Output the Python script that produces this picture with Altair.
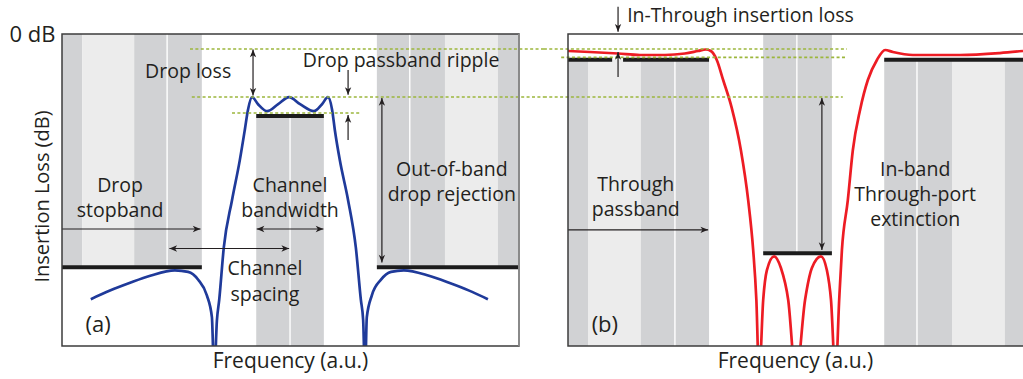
import altair as alt
import pandas as pd

FONT = "Open Sans"
INK = "#231f20"
FRAME = "#3d3d3d"
SIDE = "#8e8e8e"
TONES = ["mid", "light"]
TONE_COLOURS = ["#d1d2d4", "#ececec"]
BLUE = "#1f3a9a"
RED = "#ed1c24"
GUIDE = "#9cb63c"
SPEC = "#1c1c1c"

# arrowhead outline, tip at the origin, pointing up
HEAD = "M0,0L0.9,2.2L0,1.6L-0.9,2.2Z"

# ---------------- panel (a): drop port ----------------
a_band_x0 = [0.0, 4.4, 15.8, 68.9, 83.8, 95.4, 42.5]
a_band_x1 = [4.4, 15.8, 30.6, 83.8, 95.4, 100.0, 57.3]
a_band_top = [0.0, 0.0, 0.0, 0.0, 0.0, 0.0, -10.5]
a_band_bot = [-29.9, -29.9, -29.9, -29.9, -29.9, -29.9, -40.0]
a_band_tone = ["mid", "light", "mid", "mid", "light", "mid", "mid"]

a_sep_x = [23.0, 76.1, 49.9]
a_sep_top = [0.0, 0.0, -10.5]
a_sep_bot = [-29.9, -29.9, -40.0]

a_spec_x0 = [0.0, 68.9, 42.5]
a_spec_x1 = [30.6, 100.0, 57.3]
a_spec_y = [-29.9, -29.9, -10.5]

a_freq = [6.3, 10.5, 14.9, 19.3, 24.7, 27.6, 29.8, 31.7, 32.8, 33.3,
          33.9, 34.4, 35.4, 37.2, 38.9, 40.0, 40.7, 41.6, 42.9, 44.9,
          47.3, 49.7, 52.1, 55.1, 56.9, 58.2, 59.1, 59.7, 60.8, 62.6,
          64.3, 65.4, 65.9, 66.3, 66.7, 67.8, 69.8, 72.0, 74.8, 80.3,
          84.7, 89.1, 93.2]
a_loss = [-34.0, -32.9, -31.9, -31.0, -30.3, -30.5, -31.5, -33.5, -36.3, -44.0,
          -36.7, -34.1, -27.4, -21.3, -16.2, -12.3, -9.7, -8.1, -9.0, -9.9,
          -9.0, -8.1, -9.0, -9.9, -9.0, -8.1, -9.7, -12.3, -16.2, -21.3,
          -27.4, -34.1, -36.7, -44.0, -36.3, -33.5, -31.5, -30.5, -30.3, -31.0,
          -31.9, -32.9, -34.0]

a_guide_x0 = [28.0, 28.4, 37.2]
a_guide_x1 = [105.5, 105.5, 65.4]
a_guide_y = [-1.92, -8.08, -10.13]

a_arrow_x0 = [41.8, 62.6, 62.6, 70.0, 0.0, 42.6, 23.5]
a_arrow_y0 = [-2.0, -4.6, -13.6, -8.2, -25.0, -25.0, -27.5]
a_arrow_x1 = [41.8, 62.6, 62.6, 70.0, 30.3, 57.2, 49.7]
a_arrow_y1 = [-7.9, -7.8, -10.4, -29.3, -25.0, -25.0, -27.5]
a_arrow_heads = ["both", "end", "end", "both", "end", "both", "both"]

a_text = ["Drop loss", "Drop passband ripple", "Drop", "stopband", "Channel",
          "bandwidth", "Channel", "spacing", "Out-of-band", "drop rejection"]
a_text_x = [27.6, 74.2, 12.7, 12.7, 49.9, 49.9, 44.4, 44.4, 85.3, 85.3]
a_text_y = [-4.9, -3.4, -19.5, -22.7, -19.5, -22.7, -30.1, -33.4, -17.4, -20.6]

a_tag = ["(a)"]
a_tag_x = [7.9]
a_tag_y = [-37.3]

# ---------------- panel (b): through port ----------------
b_band_x0 = [0.0, 4.4, 16.0, 69.5, 84.4, 96.0, 42.9]
b_band_x1 = [4.4, 16.0, 31.0, 84.4, 96.0, 100.0, 58.0]
b_band_top = [-3.3, -3.3, -3.3, -3.3, -3.3, -3.3, 0.0]
b_band_bot = [-40.0, -40.0, -40.0, -40.0, -40.0, -40.0, -28.1]
b_band_tone = ["mid", "light", "mid", "mid", "light", "mid", "mid"]

b_sep_x = [23.5, 76.7, 50.3]
b_sep_top = [-3.3, -3.3, 0.0]
b_sep_bot = [-40.0, -40.0, -28.1]

b_spec_x0 = [0.0, 12.1, 69.5, 42.9]
b_spec_x1 = [9.7, 31.0, 100.0, 58.0]
b_spec_y = [-3.3, -3.3, -3.3, -28.1]

b_freq = [0.0, 4.8, 11.0, 15.8, 21.3, 25.7, 28.6, 30.3, 31.4, 32.7,
          34.1, 36.0, 38.0, 39.6, 40.7, 41.4, 42.0, 42.9, 43.7, 45.3,
          46.8, 48.4, 50.1, 52.1, 53.6, 55.6, 56.9, 57.8, 58.8, 59.6,
          60.2, 61.5, 62.6, 64.2, 65.9, 67.9, 69.7, 71.4, 75.8, 86.2,
          94.9, 100.0]
b_loss = [-2.18, -2.31, -2.5, -2.69, -2.69, -2.5, -2.18, -1.99, -2.18, -3.33,
          -5.9, -9.5, -14.9, -21.3, -27.7, -34.1, -44.0, -34.1, -30.3, -28.5,
          -30.0, -34.1, -44.0, -34.1, -30.0, -28.5, -30.3, -34.1, -44.0, -34.1,
          -27.7, -21.3, -14.9, -9.7, -5.9, -3.33, -2.05, -2.31, -2.69, -2.69,
          -2.44, -2.18]

b_guide_x0 = [-5.3, -1.5, -5.3]
b_guide_x1 = [61.3, 61.3, 60.4]
b_guide_y = [-1.92, -3.0, -8.08]

b_arrow_x0 = [11.0, 11.0, 0.0, 55.8]
b_arrow_y0 = [3.5, -5.5, -25.1, -8.2]
b_arrow_x1 = [11.0, 11.0, 30.8, 55.8]
b_arrow_y1 = [0.3, -2.3, -25.1, -27.7]
b_arrow_heads = ["end", "end", "end", "both"]

b_text = ["Through", "passband", "In-band", "Through-port", "extinction"]
b_text_x = [14.9, 14.9, 76.3, 76.3, 76.3]
b_text_y = [-19.4, -22.6, -17.4, -20.6, -23.8]

b_tag = ["(b)"]
b_tag_x = [8.1]
b_tag_y = [-37.3]

b_note = ["In-Through insertion loss"]
b_note_x = [13.0]
b_note_y = [2.3]

x_title = "Frequency (a.u.)"
x_title_pos = [50.0, -42.1]

# ---------------- shared encodings ----------------
Y_SCALE = alt.Scale(domain=[-40, 0], nice=False, zero=False)
Y_AXIS = alt.Axis(
    values=[0], labelExpr="'0 dB'", title="Insertion Loss (dB)",
    domain=False, ticks=False, tickSize=0, grid=False,
    labelPadding=7, labelFont=FONT, labelFontSize=22, labelColor=INK,
    labelFlush=False, labelBaseline="middle",
    titleFont=FONT, titleFontSize=20, titleFontWeight="normal", titleColor=INK,
    titleAngle=270, titleAlign="center", titleBaseline="middle",
    titleX=-20, titleY=162,
)


def ycol(field="y"):
    return alt.Y(f"{field}:Q", scale=Y_SCALE, axis=Y_AXIS)


def xcol(xs, field="x"):
    return alt.X(f"{field}:Q", scale=xs, axis=None)


def arrowheads(x0, y0, x1, y1, kinds):
    rows = []
    for a, b, c, d, k in zip(x0, y0, x1, y1, kinds):
        ends = [(c, d, a, b)]
        if k == "both":
            ends.append((a, b, c, d))
        for tx, ty, ox, oy in ends:
            if tx == ox:
                ang = 0 if ty > oy else 180
            else:
                ang = 90 if tx > ox else 270
            rows.append({"x": tx, "y": ty, "angle": ang})
    return pd.DataFrame(rows)


def text_layer(xs, cols, size, align):
    return (
        alt.Chart(pd.DataFrame(dict(zip(["text", "x", "y"], cols))))
        .mark_text(font=FONT, fontSize=size, color=INK, align=align, baseline="middle")
        .encode(x=xcol(xs), y=ycol(), text="text:N")
    )


def panel(xs, bands, seps, specs, curve, colour, guides, arrows, texts, tag, notes,
          frame_x1, side_rule):
    layers = []
    layers.append(
        alt.Chart(pd.DataFrame(dict(zip(["x", "x2", "y", "y2", "tone"], bands))))
        .mark_rect()
        .encode(x=xcol(xs), x2="x2", y=ycol(), y2="y2",
                color=alt.Color("tone:N", scale=alt.Scale(domain=TONES, range=TONE_COLOURS),
                                legend=None))
    )
    layers.append(
        alt.Chart(pd.DataFrame(dict(zip(["x", "y", "y2"], seps))))
        .mark_rule(color="white", strokeWidth=1.4)
        .encode(x=xcol(xs), y=ycol(), y2="y2")
    )
    layers.append(
        alt.Chart(pd.DataFrame(dict(zip(["x", "x2", "y"], specs))))
        .mark_rule(color=SPEC, strokeWidth=4)
        .encode(x=xcol(xs), x2="x2", y=ycol())
    )
    layers.append(
        alt.Chart(pd.DataFrame(dict(zip(["x", "y"], curve))))
        .mark_line(color=colour, strokeWidth=2.7, interpolate="monotone", clip=True)
        .encode(x=xcol(xs), y=ycol())
    )
    layers.append(
        alt.Chart(pd.DataFrame(dict(zip(["x", "x2", "y"], guides))))
        .mark_rule(color=GUIDE, strokeWidth=1.6, strokeDash=[3, 2.4])
        .encode(x=xcol(xs), x2="x2", y=ycol())
    )
    layers.append(
        alt.Chart(pd.DataFrame(dict(zip(["x", "y", "x2", "y2"], arrows[:4]))))
        .mark_rule(color=INK, strokeWidth=1.2)
        .encode(x=xcol(xs), x2="x2", y=ycol(), y2="y2")
    )
    layers.append(
        alt.Chart(arrowheads(*arrows))
        .mark_point(shape=HEAD, filled=True, size=49, color=INK, opacity=1, strokeWidth=0)
        .encode(x=xcol(xs), y=ycol(), angle=alt.Angle("angle:Q", scale=None))
    )
    layers.append(text_layer(xs, texts, 19.5, "center"))
    layers.append(text_layer(xs, tag, 22, "center"))
    if notes is not None:
        layers.append(text_layer(xs, notes, 19.5, "left"))
    layers.append(
        alt.Chart(pd.DataFrame({"x": [0.0], "x2": [frame_x1], "y": [0.0], "y2": [-40.0]}))
        .mark_rect(filled=False, color=FRAME, strokeWidth=1.5)
        .encode(x=xcol(xs), x2="x2", y=ycol(), y2="y2")
    )
    if side_rule:
        layers.append(
            alt.Chart(pd.DataFrame({"x": [frame_x1], "y": [0.0], "y2": [-40.0]}))
            .mark_rule(color=SIDE, strokeWidth=1.8)
            .encode(x=xcol(xs), y=ycol(), y2="y2")
        )
    layers.append(
        text_layer(xs, [[x_title], [x_title_pos[0]], [x_title_pos[1]]], 21, "center")
    )
    return alt.layer(*layers)


xs_a = alt.Scale(domain=[0, 100], range=[0, 457], nice=False, zero=False)
xs_b = alt.Scale(domain=[0, 100], range=[506, 961], nice=False, zero=False)

panel_a = panel(
    xs_a,
    [a_band_x0, a_band_x1, a_band_top, a_band_bot, a_band_tone],
    [a_sep_x, a_sep_top, a_sep_bot],
    [a_spec_x0, a_spec_x1, a_spec_y],
    [a_freq, a_loss], BLUE,
    [a_guide_x0, a_guide_x1, a_guide_y],
    [a_arrow_x0, a_arrow_y0, a_arrow_x1, a_arrow_y1, a_arrow_heads],
    [a_text, a_text_x, a_text_y],
    [a_tag, a_tag_x, a_tag_y],
    None, 100.0, True,
)

panel_b = panel(
    xs_b,
    [b_band_x0, b_band_x1, b_band_top, b_band_bot, b_band_tone],
    [b_sep_x, b_sep_top, b_sep_bot],
    [b_spec_x0, b_spec_x1, b_spec_y],
    [b_freq, b_loss], RED,
    [b_guide_x0, b_guide_x1, b_guide_y],
    [b_arrow_x0, b_arrow_y0, b_arrow_x1, b_arrow_y1, b_arrow_heads],
    [b_text, b_text_x, b_text_y],
    [b_tag, b_tag_x, b_tag_y],
    [b_note, b_note_x, b_note_y], 101.0, False,
)

chart = (
    alt.layer(panel_a, panel_b)
    .resolve_scale(x="independent")
    .properties(
        width=961, height=312,
        padding={"left": 62, "top": 34, "right": 0, "bottom": 33},
        autosize=alt.AutoSizeParams(type="none"),
        background="white",
    )
    .configure_view(stroke="transparent")
)

chart.save("out.html", embed_options={"renderer": "svg", "actions": False})
